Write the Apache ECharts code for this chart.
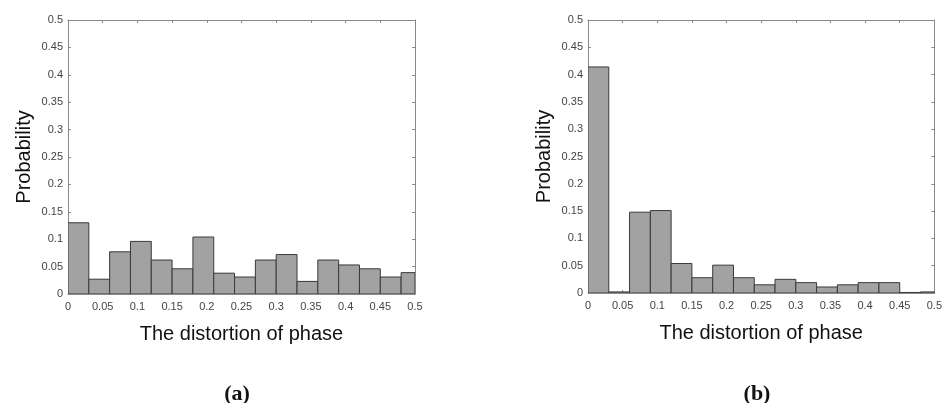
<!DOCTYPE html>
<html>
<head>
<meta charset="utf-8">
<script src="https://cdn.jsdelivr.net/npm/echarts@6/dist/echarts.min.js"></script>
<style>
  html, body { margin: 0; padding: 0; background: #fff; }
  #chart { width: 945px; height: 403px; }
</style>
</head>
<body>
<div id="chart"></div>
<script>
// histogram bins (phase distortion), bin width 0.03, last bin cut at 0.5
var binLo = [0, 0.03, 0.06, 0.09, 0.12, 0.15, 0.18, 0.21, 0.24, 0.27, 0.30, 0.33, 0.36, 0.39, 0.42, 0.45, 0.48];
var binHi = [0.03, 0.06, 0.09, 0.12, 0.15, 0.18, 0.21, 0.24, 0.27, 0.30, 0.33, 0.36, 0.39, 0.42, 0.45, 0.48, 0.51];
var probA = [0.130, 0.027, 0.077, 0.096, 0.062, 0.046, 0.104, 0.038, 0.031, 0.062, 0.072, 0.023, 0.062, 0.053, 0.046, 0.031, 0.039];
var probB = [0.414, 0.002, 0.148, 0.151, 0.054, 0.028, 0.051, 0.028, 0.015, 0.025, 0.019, 0.011, 0.015, 0.019, 0.019, 0.001, 0.002];
var panels = ['(a)', '(b)'];

var xMax = 0.5, yMax = 0.5, step = 0.05;
var axisGray = '#8a8a8a';
var labelColor = '#444';

function histData(vals) {
  var out = [];
  for (var i = 0; i < vals.length; i++) out.push([binLo[i], binHi[i], vals[i]]);
  return out;
}

function renderBar(params, api) {
  var lo = api.value(0), hi = Math.min(api.value(1), xMax), v = api.value(2);
  var p0 = api.coord([lo, v]);
  var p1 = api.coord([hi, 0]);
  return {
    type: 'rect',
    shape: { x: p0[0], y: p0[1], width: p1[0] - p0[0], height: p1[1] - p0[1] },
    style: { fill: '#a2a2a2', stroke: '#3a3a3a', lineWidth: 1 }
  };
}

var grids = [
  { left: 68, top: 20, width: 347, height: 274 },
  { left: 588, top: 20, width: 348, height: 273 }
];

function boxLine() {
  return { show: true, onZero: false, lineStyle: { color: axisGray, width: 1 } };
}
function boxTick() {
  return { show: true, inside: true, length: 3, lineStyle: { color: axisGray } };
}
function fmt(v) { return +v.toFixed(2) + ''; }

var xAxes = [], yAxes = [], series = [];
grids.forEach(function (g, k) {
  // bottom x axis with labels
  xAxes.push({
    gridIndex: k, type: 'value', min: 0, max: xMax, interval: step, position: 'bottom',
    name: 'The distortion of phase', nameLocation: 'middle', nameGap: 30,
    nameTextStyle: { fontFamily: 'Liberation Sans', fontSize: 20, color: '#111' },
    axisLine: boxLine(), axisTick: boxTick(),
    axisLabel: { color: labelColor, fontSize: 11, fontFamily: 'Liberation Sans', margin: 7, formatter: fmt },
    splitLine: { show: false }
  });
  // top edge of the box
  xAxes.push({
    gridIndex: k, type: 'value', min: 0, max: xMax, interval: step, position: 'top',
    axisLine: boxLine(), axisTick: boxTick(),
    axisLabel: { show: false }, splitLine: { show: false }
  });
  yAxes.push({
    gridIndex: k, type: 'value', min: 0, max: yMax, interval: step, position: 'left',
    name: 'Probability', nameLocation: 'middle', nameGap: 34, nameRotate: 90,
    nameTextStyle: { fontFamily: 'Liberation Sans', fontSize: 20, color: '#111' },
    axisLine: boxLine(), axisTick: boxTick(),
    axisLabel: { color: labelColor, fontSize: 11, fontFamily: 'Liberation Sans', margin: 5, formatter: fmt },
    splitLine: { show: false }
  });
  // right edge of the box
  yAxes.push({
    gridIndex: k, type: 'value', min: 0, max: yMax, interval: step, position: 'right',
    axisLine: boxLine(), axisTick: boxTick(),
    axisLabel: { show: false }, splitLine: { show: false }
  });
  series.push({
    type: 'custom',
    xAxisIndex: k * 2, yAxisIndex: k * 2,
    clip: true,
    renderItem: renderBar,
    data: histData(k === 0 ? probA : probB),
    z: 1
  });
});

var myChart = echarts.init(document.getElementById('chart'), null, { renderer: 'canvas' });
myChart.setOption({
  backgroundColor: '#fff',
  animation: false,
  title: panels.map(function (t, k) {
    return {
      text: t,
      left: k === 0 ? 232 : 752, top: 378, textAlign: 'center',
      textStyle: { fontFamily: 'Liberation Serif', fontWeight: 'bold', fontSize: 22, color: '#111' }
    };
  }),
  grid: grids,
  xAxis: xAxes,
  yAxis: yAxes,
  series: series
});
</script>
</body>
</html>
